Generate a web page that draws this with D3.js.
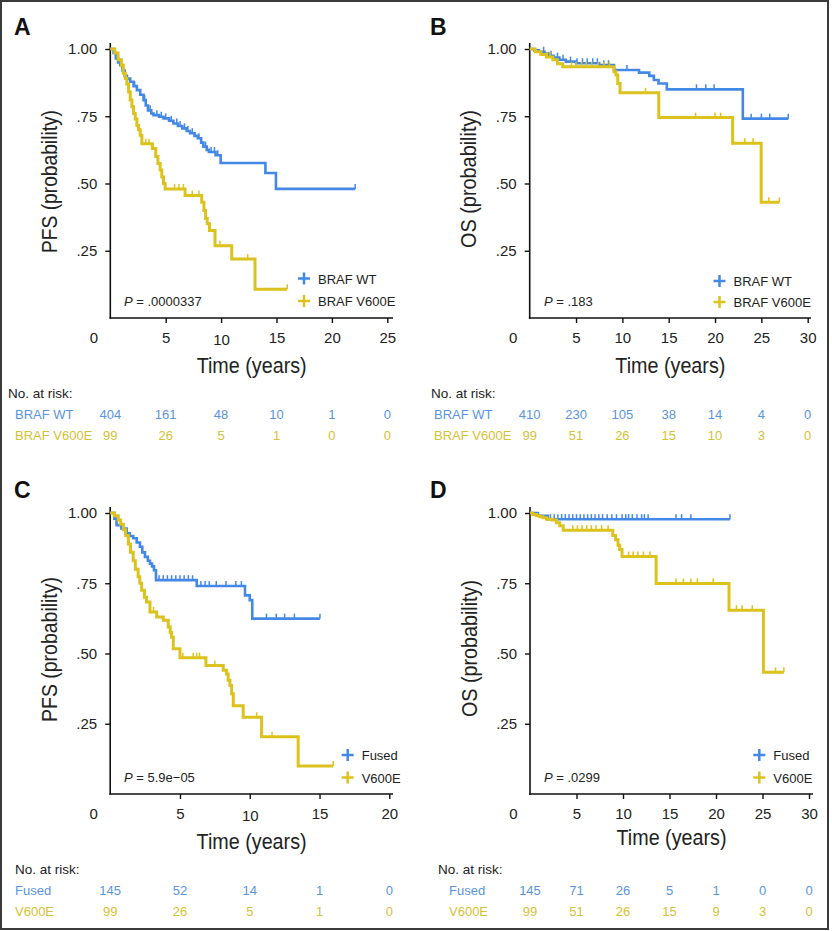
<!DOCTYPE html>
<html><head><meta charset="utf-8">
<script src="https://cdn.jsdelivr.net/npm/d3@7"></script>
<style>
body{margin:0;background:#fff}
svg{display:block}
text{font-family:"Liberation Sans",Arial,Helvetica,sans-serif}
</style>
</head><body><svg id="c" width="832" height="931" fill="#222"></svg>
<script>
// ---------------- DATA ----------------
const yTicks = [0.25, 0.5, 0.75, 1.0];
const yTickLabels = [".25", ".50", ".75", "1.00"];
const xTicksA = [0, 5, 10, 15, 20, 25];
const xTicksB = [0, 5, 10, 15, 20, 25, 30];
const xTicksC = [0, 5, 10, 15, 20];
const xTicksD = [0, 5, 10, 15, 20, 25, 30];

const groupsAB = ["BRAF WT", "BRAF V600E"];
const groupsCD = ["Fused", "V600E"];
const pValues = ["= .0000337", "= .183", "= 5.9e\u221205", "= .0299"];
const yTitles = ["PFS (probability)", "OS (probability)", "PFS (probability)", "OS (probability)"];
const panelLetters = ["A", "B", "C", "D"];

// Panel A – PFS, BRAF WT
const A_wt_t = [0, 0.3, 0.5, 0.7, 0.9, 1.1, 1.3, 1.5, 1.8, 2.1, 2.4, 2.7, 3.0, 3.2, 3.4, 3.7, 3.9, 4.4, 4.8, 5.3, 5.7, 6.1, 6.5, 6.9, 7.2, 7.6, 7.9, 8.2, 8.4, 8.7, 8.9, 9.5, 9.96, 14.0, 14.95];
const A_wt_s = [1, 0.985, 0.965, 0.95, 0.94, 0.92, 0.90, 0.89, 0.878, 0.862, 0.847, 0.83, 0.81, 0.79, 0.772, 0.76, 0.754, 0.748, 0.742, 0.733, 0.723, 0.714, 0.705, 0.695, 0.687, 0.677, 0.668, 0.652, 0.637, 0.625, 0.617, 0.605, 0.576, 0.539, 0.48];
const A_wt_end = 22.1;
const A_wt_cens = [2.2, 3.1, 3.6, 4.2, 4.6, 5.0, 5.5, 6.0, 6.3, 6.7, 7.0, 7.4, 8.0, 8.6, 9.1, 9.4, 9.7, 22.1];
// Panel A – PFS, BRAF V600E
const A_v_t = [0, 0.4, 0.7, 1.0, 1.17, 1.35, 1.5, 1.65, 1.8, 1.95, 2.1, 2.25, 2.4, 2.55, 2.7, 2.85, 3.8, 4.1, 4.3, 4.5, 4.65, 4.8, 4.95, 6.75, 8.25, 8.45, 8.6, 8.75, 8.95, 9.45, 10.96, 13.06];
const A_v_s = [1, 0.985, 0.96, 0.94, 0.91, 0.89, 0.87, 0.84, 0.81, 0.785, 0.76, 0.74, 0.716, 0.70, 0.679, 0.648, 0.63, 0.60, 0.574, 0.55, 0.524, 0.50, 0.48, 0.455, 0.43, 0.40, 0.37, 0.35, 0.325, 0.269, 0.219, 0.107];
const A_v_end = 15.97;
const A_v_cens = [3.2, 3.5, 5.8, 6.2, 6.6, 7.4, 8.0, 9.9, 12.4, 15.97];

// Panel B – OS, BRAF WT
const B_wt_t = [0, 0.5, 1.0, 1.6, 2.1, 2.6, 3.2, 3.9, 5.0, 7.5, 9.1, 11.8, 12.9, 13.4, 13.9, 14.8, 23.0];
const B_wt_s = [1, 0.995, 0.99, 0.983, 0.975, 0.968, 0.96, 0.953, 0.947, 0.94, 0.922, 0.912, 0.90, 0.885, 0.872, 0.85, 0.741];
const B_wt_end = 27.9;
const B_wt_cens = [1.5, 2.3, 3.0, 3.6, 4.4, 5.1, 5.7, 6.2, 6.8, 7.3, 8.0, 8.5, 10.5, 18.0, 19.0, 19.9, 23.9, 25.0, 25.9, 27.9];
// Panel B – OS, BRAF V600E
const B_v_t = [0, 0.6, 1.2, 1.8, 2.5, 3.0, 3.56, 9.1, 9.3, 9.5, 9.75, 13.93, 21.9, 24.98];
const B_v_s = [1, 0.99, 0.98, 0.97, 0.96, 0.945, 0.934, 0.915, 0.903, 0.872, 0.837, 0.745, 0.65, 0.43];
const B_v_end = 26.95;
const B_v_cens = [1.9, 2.2, 4.5, 5.0, 5.6, 6.1, 6.7, 7.4, 8.0, 8.6, 12.5, 17.9, 20.0, 20.6, 23.2, 24.1, 25.8, 26.95];

// Panel C – PFS, Fused
const C_f_t = [0, 0.3, 0.46, 0.8, 1.18, 1.4, 1.65, 1.9, 2.13, 2.3, 2.49, 2.7, 2.85, 3.0, 3.14, 3.28, 6.2, 9.66, 10.0, 10.18];
const C_f_s = [1, 0.98, 0.957, 0.945, 0.928, 0.918, 0.91, 0.895, 0.88, 0.86, 0.844, 0.83, 0.82, 0.81, 0.796, 0.761, 0.74, 0.707, 0.69, 0.624];
const C_f_end = 15.03;
const C_f_cens = [3.5, 3.8, 4.1, 4.4, 4.7, 5.0, 5.3, 5.6, 5.9, 6.5, 6.8, 7.1, 7.6, 8.3, 9.0, 9.4, 11.2, 11.9, 12.5, 13.2, 15.03];
// Panel C – PFS, V600E
const C_v_t = [0, 0.3, 0.58, 0.75, 0.94, 1.1, 1.3, 1.45, 1.65, 1.8, 2.0, 2.12, 2.25, 2.45, 2.6, 2.85, 3.33, 3.8, 4.16, 4.3, 4.4, 4.52, 5.0, 6.86, 8.1, 8.34, 8.45, 8.58, 8.7, 8.82, 9.53, 10.85, 13.47];
const C_v_s = [1, 0.99, 0.975, 0.96, 0.94, 0.92, 0.89, 0.86, 0.83, 0.80, 0.773, 0.75, 0.725, 0.70, 0.683, 0.648, 0.63, 0.618, 0.594, 0.575, 0.558, 0.517, 0.485, 0.457, 0.44, 0.427, 0.405, 0.386, 0.357, 0.314, 0.273, 0.204, 0.10];
const C_v_end = 15.98;
const C_v_cens = [3.1, 5.2, 5.95, 6.2, 6.4, 7.5, 10.5, 11.6, 15.98];

// Panel D – OS, Fused
const D_f_t = [0, 0.85, 1.9];
const D_f_s = [1, 0.99, 0.978];
const D_f_end = 21.5;
const D_f_cens = [2.2, 2.6, 3.0, 3.4, 3.8, 4.2, 4.6, 5.0, 5.4, 5.8, 6.2, 6.6, 7.0, 7.4, 7.8, 8.3, 8.8, 9.3, 9.9, 10.3, 10.6, 11.0, 11.5, 12.0, 12.3, 12.7, 15.7, 16.3, 17.3, 21.5];
// Panel D – OS, V600E
const D_v_t = [0, 0.3, 0.7, 1.07, 1.4, 1.78, 2.4, 2.86, 3.2, 3.57, 8.9, 9.2, 9.46, 9.64, 9.9, 13.56, 21.4, 25.1];
const D_v_s = [1, 0.995, 0.99, 0.987, 0.983, 0.978, 0.975, 0.965, 0.955, 0.939, 0.92, 0.905, 0.885, 0.87, 0.845, 0.749, 0.654, 0.433];
const D_v_end = 27.3;
const D_v_cens = [4.6, 5.1, 5.6, 6.1, 6.6, 7.1, 7.7, 8.4, 10.6, 11.1, 11.6, 12.2, 12.9, 15.7, 16.5, 17.3, 18.0, 19.7, 22.2, 22.8, 23.9, 26.4, 27.3];

// Numbers at risk
const A_risk_wt = [404, 161, 48, 10, 1, 0];
const A_risk_v = [99, 26, 5, 1, 0, 0];
const B_risk_wt = [410, 230, 105, 38, 14, 4, 0];
const B_risk_v = [99, 51, 26, 15, 10, 3, 0];
const C_risk_f = [145, 52, 14, 1, 0];
const C_risk_v = [99, 26, 5, 1, 0];
const D_risk_f = [145, 71, 26, 5, 1, 0, 0];
const D_risk_v = [99, 51, 26, 15, 9, 3, 0];

// ---------------- STYLE ----------------
const BLUE = "#4388e6", YELLOW = "#dcc21c";
const BLUE_T = "#5a94de", YELLOW_T = "#d5c134";
const INK = "#222";

const svg = d3.select("#c");
svg.append("rect").attr("x", 1).attr("y", 1).attr("width", 827).attr("height", 928)
  .attr("fill", "none").attr("stroke", "#3a3a3a").attr("stroke-width", 2);

const panels = [
  { letter: panelLetters[0], ticks: xTicksA, xr: [110.3, 387.3], axEnd: 393, yr: [318, 49], yTop: 43,
    letterXY: [14, 35], yTitle: yTitles[0], yT: [57, 181.5, 143], xTitleY: 373, tickY: 25, tenDrop: 2.3,
    p: pValues[0], pXY: [124, 305.5], legX: 304, legY: [278.5, 301], groups: groupsAB,
    curves: [[A_wt_t, A_wt_s, A_wt_end, A_wt_cens], [A_v_t, A_v_s, A_v_end, A_v_cens]],
    risk: [A_risk_wt, A_risk_v], nrX: 8, nrY: 397.5, rowX: 15, rowY: [418.5, 440] },
  { letter: panelLetters[1], ticks: xTicksB, xr: [529.7, 807.7], axEnd: 811, yr: [318, 49], yTop: 43,
    letterXY: [430, 35], yTitle: yTitles[1], yT: [476, 179, 138], xTitleY: 373, tickY: 25, tenDrop: 0,
    p: pValues[1], pXY: [544, 305.5], legX: 719.5, legY: [281, 302], groups: groupsAB,
    curves: [[B_wt_t, B_wt_s, B_wt_end, B_wt_cens], [B_v_t, B_v_s, B_v_end, B_v_cens]],
    risk: [B_risk_wt, B_risk_v], nrX: 431, nrY: 397.5, rowX: 434, rowY: [418.5, 440] },
  { letter: panelLetters[2], ticks: xTicksC, xr: [110.2, 389.3], axEnd: 393, yr: [794, 513], yTop: 507,
    letterXY: [14, 498], yTitle: yTitles[2], yT: [57, 649.5, 145], xTitleY: 849, tickY: 24.5, tenDrop: 2.3,
    p: pValues[2], pXY: [124, 782], legX: 347.7, legY: [755, 777.5], groups: groupsCD,
    curves: [[C_f_t, C_f_s, C_f_end, C_f_cens], [C_v_t, C_v_s, C_v_end, C_v_cens]],
    risk: [C_risk_f, C_risk_v], nrX: 15, nrY: 874, rowX: 15, rowY: [895, 916] },
  { letter: panelLetters[3], ticks: xTicksD, xr: [530, 809], axEnd: 813, yr: [794, 513], yTop: 507,
    letterXY: [430, 498], yTitle: yTitles[3], yT: [477, 648.5, 137], xTitleY: 845, tickY: 24.5, tenDrop: 0,
    p: pValues[3], pXY: [544, 782], legX: 759.3, legY: [755, 777.5], groups: groupsCD,
    curves: [[D_f_t, D_f_s, D_f_end, D_f_cens], [D_v_t, D_v_s, D_v_end, D_v_cens]],
    risk: [D_risk_f, D_risk_v], nrX: 438, nrY: 874, rowX: 449, rowY: [895, 916] }
];

const colors = [BLUE, YELLOW], tcolors = [BLUE_T, YELLOW_T];

panels.forEach(P => {
  const ticks = P.ticks;
  const x = d3.scaleLinear().domain([0, ticks[ticks.length - 1]]).range(P.xr);
  const y = d3.scaleLinear().domain([0, 1]).range(P.yr);
  const g = svg.append("g").attr("fill", INK);
  const x0 = x(0), yb = y(0);

  // panel letter
  g.append("text").attr("x", P.letterXY[0]).attr("y", P.letterXY[1])
    .attr("font-size", 23).attr("font-weight", "bold").attr("fill", "#111").text(P.letter);

  // y axis
  const ya = g.append("g").attr("transform", `translate(${x0},0)`)
    .call(d3.axisLeft(y).tickValues(yTicks).tickFormat((d, i) => yTickLabels[i]).tickSize(5).tickPadding(8));
  ya.select(".domain").remove();
  ya.selectAll("line").attr("stroke", "#111").attr("stroke-width", 1.4);
  ya.selectAll("text").attr("font-size", 15).attr("fill", INK)
    .attr("font-family", '"Liberation Sans",Arial,sans-serif');
  g.append("line").attr("x1", x0).attr("x2", x0).attr("y1", P.yTop).attr("y2", yb + 0.7)
    .attr("stroke", "#111").attr("stroke-width", 1.6);

  // x axis
  const xa = g.append("g").attr("transform", `translate(0,${yb})`)
    .call(d3.axisBottom(x).tickValues(ticks).tickSize(5).tickSizeOuter(0));
  xa.select(".domain").remove();
  xa.selectAll("line").attr("stroke", "#111").attr("stroke-width", 1.4)
    .attr("opacity", d => d === 0 ? 0 : 1);
  xa.selectAll("text").attr("font-size", 15).attr("fill", INK).attr("dy", 0)
    .attr("font-family", '"Liberation Sans",Arial,sans-serif')
    .attr("y", d => P.tickY + (d === 10 ? P.tenDrop : 0))
    .attr("x", d => d === 0 ? -17 : 0);
  g.append("line").attr("x1", x0 - 0.8).attr("x2", P.axEnd).attr("y1", yb).attr("y2", yb)
    .attr("stroke", "#111").attr("stroke-width", 1.6);

  // titles
  g.append("text").attr("x", (x0 + P.axEnd) / 2).attr("y", P.xTitleY)
    .attr("text-anchor", "middle").attr("font-size", 22).attr("fill", INK)
    .attr("textLength", 110).attr("lengthAdjust", "spacingAndGlyphs").text("Time (years)");
  g.append("text").attr("transform", `translate(${P.yT[0]},${P.yT[1]}) rotate(-90)`)
    .attr("text-anchor", "middle").attr("font-size", 22).attr("fill", INK)
    .attr("textLength", P.yT[2]).attr("lengthAdjust", "spacingAndGlyphs").text(P.yTitle);

  // curves
  const line = d3.line().x(d => x(d[0])).y(d => y(d[1])).curve(d3.curveStepAfter);
  P.curves.forEach((c, ci) => {
    const [ts, ss, end, cens] = c;
    const pts = ts.map((t, i) => [t, ss[i]]);
    pts.push([end, ss[ss.length - 1]]);
    g.append("path").attr("d", line(pts)).attr("fill", "none")
      .attr("stroke", colors[ci]).attr("stroke-width", ci === 0 ? 2.6 : 3)
      .attr("stroke-linejoin", "miter").attr("stroke-linecap", "butt");
    const bis = d3.bisector(d => d).right;
    cens.forEach(t => {
      const idx = Math.max(0, bis(ts, t) - 1);
      const sv = ss[idx];
      g.append("line").attr("x1", x(t)).attr("x2", x(t))
        .attr("y1", y(sv) - 5).attr("y2", y(sv))
        .attr("stroke", colors[ci]).attr("stroke-width", 1.5);
    });
  });

  // legend
  P.groups.forEach((name, i) => {
    const cy = P.legY[i];
    g.append("line").attr("x1", P.legX - 6).attr("x2", P.legX + 6).attr("y1", cy).attr("y2", cy)
      .attr("stroke", colors[i]).attr("stroke-width", 2.5);
    g.append("line").attr("x1", P.legX).attr("x2", P.legX).attr("y1", cy - 6).attr("y2", cy + 6)
      .attr("stroke", colors[i]).attr("stroke-width", 2.5);
    g.append("text").attr("x", P.legX + 14).attr("y", cy + 5).attr("font-size", 13)
      .attr("fill", INK).text(name);
  });

  // p value
  const pt = g.append("text").attr("x", P.pXY[0]).attr("y", P.pXY[1]).attr("font-size", 13).attr("fill", INK);
  pt.append("tspan").attr("font-style", "italic").text("P");
  pt.append("tspan").text(" " + P.p);

  // risk table
  g.append("text").attr("x", P.nrX).attr("y", P.nrY).attr("font-size", 13.5).attr("fill", INK).text("No. at risk:");
  P.risk.forEach((row, ri) => {
    g.append("text").attr("x", P.rowX).attr("y", P.rowY[ri]).attr("font-size", 13)
      .attr("fill", tcolors[ri]).text(P.groups[ri]);
    row.forEach((v, k) => {
      g.append("text").attr("x", x(ticks[k])).attr("y", P.rowY[ri]).attr("font-size", 13)
        .attr("text-anchor", "middle").attr("fill", tcolors[ri]).text(v);
    });
  });
});
</script>
</body></html>
